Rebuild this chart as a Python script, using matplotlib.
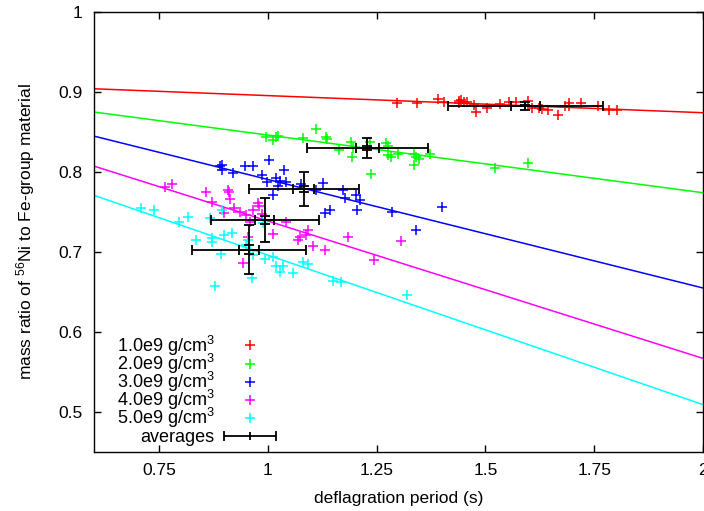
import numpy as np
import matplotlib
matplotlib.use('Agg')
from matplotlib import pyplot as plt
from matplotlib.ticker import FormatStrFormatter
from matplotlib.legend_handler import HandlerErrorbar

plt.rcParams['font.family'] = ['Liberation Sans', 'DejaVu Sans']
plt.rcParams['mathtext.fontset'] = 'custom'
plt.rcParams['mathtext.rm'] = 'Liberation Sans'
plt.rcParams['mathtext.it'] = 'Liberation Sans'

# (deflagration period, Ni56 mass ratio) per central density
red_x = [1.298, 1.342, 1.392, 1.406, 1.439, 1.444, 1.440, 1.452, 1.457, 1.475, 1.479, 1.503, 1.534,
         1.555, 1.570, 1.599, 1.607, 1.624, 1.630, 1.643, 1.667, 1.684, 1.693, 1.691, 1.719, 1.758,
         1.784, 1.803]
red_y = [0.886, 0.886, 0.891, 0.888, 0.889, 0.890, 0.886, 0.888, 0.887, 0.884, 0.875, 0.880, 0.885,
         0.888, 0.888, 0.889, 0.880, 0.880, 0.879, 0.878, 0.871, 0.882, 0.886, 0.882, 0.886, 0.883,
         0.878, 0.878]

green_x = [0.995, 1.012, 1.020, 1.024, 1.081, 1.112, 1.133, 1.136, 1.164, 1.192, 1.194, 1.196, 1.234,
           1.238, 1.272, 1.276, 1.276, 1.284, 1.299, 1.337, 1.341, 1.347, 1.337, 1.372, 1.523, 1.599]
green_y = [0.844, 0.840, 0.844, 0.845, 0.843, 0.854, 0.844, 0.841, 0.8275, 0.838, 0.819, 0.830, 0.838,
           0.797, 0.836, 0.833, 0.821, 0.819, 0.822, 0.823, 0.819, 0.816, 0.809, 0.822, 0.805, 0.811]

blue_x = [0.890, 0.894, 0.896, 0.920, 0.947, 0.965, 0.986, 1.003, 0.998, 1.012, 1.020, 1.024, 1.028,
          1.037, 1.043, 1.077, 1.110, 1.128, 1.131, 1.142, 1.173, 1.177, 1.203, 1.213, 1.205, 1.286,
          1.341, 1.401]
blue_y = [0.807, 0.803, 0.809, 0.799, 0.807, 0.8075, 0.796, 0.815, 0.788, 0.771, 0.792, 0.782, 0.789,
          0.802, 0.787, 0.785, 0.7775, 0.786, 0.749, 0.7525, 0.7775, 0.767, 0.771, 0.765, 0.753, 0.750,
          0.727, 0.756]

magenta_x = [0.764, 0.781, 0.858, 0.909, 0.911, 0.913, 0.873, 0.899, 0.922, 0.937, 0.951, 0.965, 0.980,
             0.986, 0.960, 0.955, 0.943, 1.011, 1.041, 1.069, 1.075, 1.092, 1.089, 1.103, 1.131, 1.184,
             1.307, 1.243, 0.978]
magenta_y = [0.781, 0.785, 0.775, 0.778, 0.7755, 0.766, 0.762, 0.749, 0.7545, 0.750, 0.746, 0.753, 0.7575,
             0.748, 0.738, 0.719, 0.686, 0.7225, 0.738, 0.715, 0.719, 0.728, 0.721, 0.7075, 0.703, 0.719,
             0.714, 0.690, 0.761]

cyan_x = [0.708, 0.739, 0.797, 0.817, 0.836, 0.871, 0.873, 0.867, 0.899, 0.919, 0.892, 0.878, 0.896,
          0.951, 0.955, 0.960, 0.963, 0.965, 0.993, 1.011, 1.018, 1.029, 1.035, 1.057, 1.080, 1.092,
          0.988, 1.150, 1.169, 1.320]
cyan_y = [0.7545, 0.7525, 0.737, 0.744, 0.715, 0.713, 0.718, 0.742, 0.721, 0.724, 0.698, 0.657, 0.7525,
          0.709, 0.715, 0.7025, 0.667, 0.696, 0.691, 0.694, 0.682, 0.675, 0.6825, 0.674, 0.687, 0.685,
          0.736, 0.664, 0.662, 0.646]

labels = ['1.0e9 g/cm$^3$', '2.0e9 g/cm$^3$', '3.0e9 g/cm$^3$', '4.0e9 g/cm$^3$', '5.0e9 g/cm$^3$']
colors = ['#ff0000', '#00ff00', '#0000ff', '#ff00ff', '#00ffff']

# linear fits y = a + b*x
fit_a = [0.9169, 0.9183, 0.9264, 0.9106, 0.8832]
fit_b = [-0.0214, -0.0721, -0.1357, -0.1718, -0.1870]

# averages: mean, std dev and std error of the mean
avg_x = [1.592, 1.229, 1.083, 0.993, 0.957]
avg_y = [0.883, 0.830, 0.779, 0.740, 0.703]
avg_xstd = [0.179, 0.139, 0.126, 0.124, 0.130]
avg_ystd = [0.005, 0.013, 0.0215, 0.027, 0.031]
avg_xsem = [0.033, 0.026, 0.024, 0.022, 0.023]
avg_ysem = [0.001, 0.0025, 0.004, 0.005, 0.0055]

xs = [red_x, green_x, blue_x, magenta_x, cyan_x]
ys = [red_y, green_y, blue_y, magenta_y, cyan_y]

fs = 12.5

fig = plt.figure(figsize=(7.04, 5.11), dpi=100)
ax = fig.add_axes([0.133, 0.1155, 0.8656, 0.861])

xfit = np.array([0.6, 2.0])
handles = []
for x, y, lab, c, a, b in zip(xs, ys, labels, colors, fit_a, fit_b):
    h, = ax.plot(x, y, '+', color=c, ms=7, mew=1.1, label=lab)
    handles.append(h)
    ax.plot(xfit, a + b * xfit, '-', color=c, lw=1.1)

eb_kw = dict(color='black', capsize=3.5, elinewidth=1.3, capthick=1.3)
hav = ax.errorbar(avg_x, avg_y, xerr=avg_xstd, fmt='|', ms=6, mew=1.3, label='averages', **eb_kw)
ax.errorbar(avg_x, avg_y, yerr=avg_ystd, fmt='none', **eb_kw)
ax.errorbar(avg_x, avg_y, xerr=avg_xsem, yerr=avg_ysem, fmt='none', **eb_kw)

ax.set_xlim(0.6, 2.0)
ax.set_ylim(0.45, 1.0)
ax.set_xticks([0.75, 1.0, 1.25, 1.5, 1.75, 2.0])
ax.set_yticks([0.5, 0.6, 0.7, 0.8, 0.9, 1.0])
ax.xaxis.set_major_formatter(FormatStrFormatter('%g'))
ax.yaxis.set_major_formatter(FormatStrFormatter('%g'))
ax.tick_params(direction='in', length=5, width=1, top=True, right=True, labelsize=fs, pad=8)
for s in ax.spines.values():
    s.set_linewidth(1.0)

ax.set_xlabel('deflagration period (s)', fontsize=fs, labelpad=9)
ax.set_ylabel('mass ratio of $^{56}$Ni to Fe-group material', fontsize=fs, labelpad=15)

leg_kw = dict(frameon=False, markerfirst=False, numpoints=1, fontsize=13,
              handlelength=2.9, handletextpad=0.5, borderpad=0.2, borderaxespad=0)
leg1 = ax.legend(handles=handles, loc='lower right', bbox_to_anchor=(0.305, 0.041),
                 labelspacing=-0.33, **leg_kw)
ax.add_artist(leg1)
ax.legend(handles=[hav], loc='lower right', bbox_to_anchor=(0.305, 0.005),
          handler_map={hav: HandlerErrorbar(xerr_size=1.45)}, **leg_kw)

fig.savefig('out.png', dpi=100)
